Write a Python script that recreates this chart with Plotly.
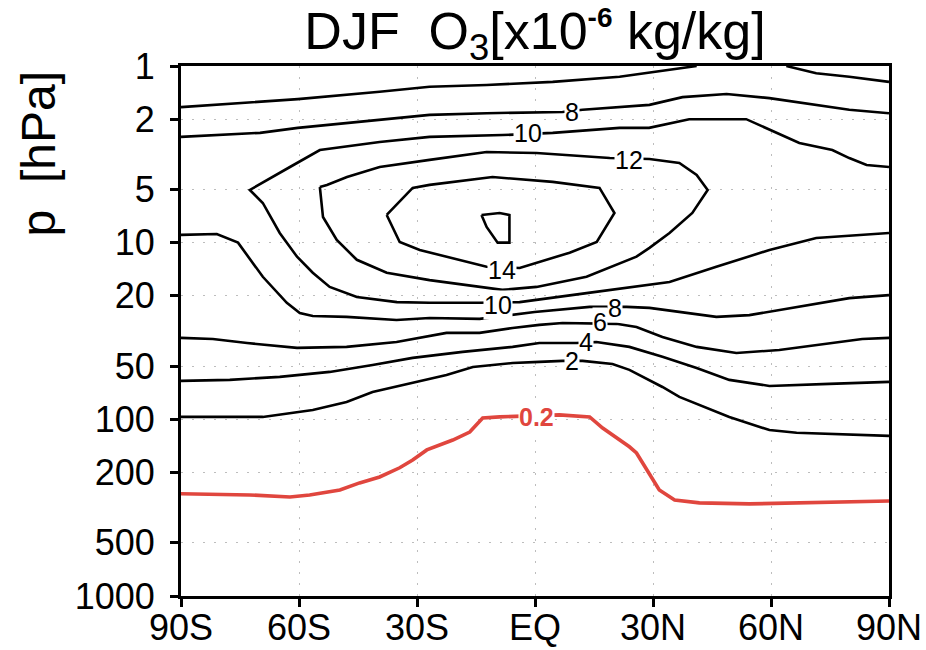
import math
import plotly.graph_objects as go

# ---------------- data (latitude in degrees, pressure in hPa) ----------------
x_tick_vals = [-90, -60, -30, 0, 30, 60, 90]
x_tick_text = ["90S", "60S", "30S", "EQ", "30N", "60N", "90N"]
y_tick_vals = [1, 2, 5, 10, 20, 50, 100, 200, 500, 1000]
y_tick_text = ["1", "2", "5", "10", "20", "50", "100", "200", "500", "1000"]

# 6 contour near the top (two pieces)
lat_6a = [-90, -75.0, -60.3, -39.5, -26.8, -12.3, 4.5, 21.5, 34.2, 41.1]
p_6a = [1.71, 1.62, 1.54, 1.40, 1.31, 1.28, 1.23, 1.15, 1.05, 1.0]
lat_6b = [63.9, 71.5, 79.9, 90]
p_6b = [1.0, 1.10, 1.15, 1.23]

# 8 contour, upper
lat_8u = [-90, -69.9, -60.3, -39.5, -26.8, -12.3, 7.0, 12.1, 21.5, 29.1, 37.5, 48.7, 59.6, 71.5, 79.9, 90]
p_8u = [2.52, 2.39, 2.24, 2.02, 1.89, 1.85, 1.82, 1.77, 1.71, 1.66, 1.50, 1.44, 1.52, 1.66, 1.77, 1.85]

# 10 contour (upper branch from 90N, around the western tip, lower branch back to 90N)
lat_10 = [90, 84.3, 79.9, 75.6, 67.2, 58.8, 53.7, 39.2, 29.0, 21.5, 4.5, -8.2, -26.8, -39.5, -54.7,
          -62.3, -68.2, -72.5, -69.2, -64.9, -60.5, -56.5, -52.2, -45.3, -35.1, -26.8, -14.1,
          -3.9, 13.1, 34.2, 46.1, 59.6, 71.5, 90]
p_10 = [3.73, 3.63, 3.32, 2.99, 2.73, 2.24, 2.00, 2.00, 2.24, 2.24, 2.39, 2.46, 2.52, 2.69, 2.99,
        3.73, 4.42, 5.03, 5.96, 8.81, 12.0, 14.8, 17.8, 20.3, 21.7, 21.9, 21.9,
        21.7, 19.3, 16.7, 13.7, 11.0, 9.40, 8.81]

# 12 contour (closed)
lat_12 = [-54.7, -52.9, -47.8, -39.5, -26.8, -12.3, 0.4, 19.0, 29.1, 36.7, 41.1, 43.9, 40.0, 34.2,
          29.1, 25.8, 13.1, 0.4, -8.3, -20.9, -26.8, -37.7, -45.3, -50.4, -53.9, -54.7]
p_12 = [4.84, 4.71, 4.25, 3.73, 3.40, 3.07, 3.11, 3.32, 3.36, 3.54, 4.14, 5.03, 6.79, 8.81,
        10.7, 12.0, 15.6, 17.8, 18.5, 16.9, 16.3, 14.8, 12.5, 9.66, 7.16, 4.84]

# 14 contour (closed)
lat_14 = [-37.7, -31.1, -26.8, -20.9, -10.8, 4.5, 16.4, 20.2, 15.7, 8.8, -3.9, -12.3, -20.9,
          -29.3, -34.4, -37.7]
p_14 = [6.97, 4.90, 4.71, 4.53, 4.25, 4.53, 4.90, 6.79, 9.91, 11.4, 13.9, 13.7, 12.2,
        11.0, 9.91, 6.97]

# 16 contour (small closed)
lat_16 = [-13.6, -9.0, -6.5, -6.5, -9.5, -12.3, -13.6]
p_16 = [6.97, 6.79, 6.97, 10.0, 10.0, 8.15, 6.97]

# 8 contour, lower
lat_8l = [-90, -80.9, -75.5, -69.2, -63.1, -59.8, -56.5, -47.9, -35.2, -26.8, -14.1, -5.7, -0.1,
          13.9, 23.3, 29.1, 36.7, 46.1, 54.5, 67.2, 79.9, 90]
p_8l = [9.04, 8.93, 10.0, 15.6, 21.9, 25.0, 26.0, 26.3, 27.4, 26.7, 27.0, 25.7, 24.7,
        23.1, 23.1, 23.4, 24.7, 26.3, 25.7, 23.1, 20.6, 19.8]

# 6 contour, lower
lat_6l = [-90, -81.9, -73.2, -60.5, -47.9, -35.2, -22.5, -14.1, -5.7, 1.1, 7.0, 20.7, 25.8,
          32.4, 41.1, 51.2, 62.1, 74.8, 83.2, 90]
p_6l = [34.6, 35.1, 37.0, 39.4, 38.9, 36.5, 32.4, 32.4, 30.4, 29.2, 28.5, 28.8, 30.0,
        34.2, 38.9, 42.1, 40.5, 37.0, 35.1, 34.6]

# 4 contour
lat_4 = [-90, -77.6, -64.9, -52.2, -41.3, -31.1, -18.4, -5.7, 1.1, 10.5, 15.6, 24.0, 32.4,
         41.1, 49.4, 59.6, 74.8, 90]
p_4 = [60.6, 59.8, 57.5, 53.9, 49.2, 44.9, 41.5, 38.9, 37.0, 37.0, 36.5, 38.9, 44.3,
       51.2, 59.8, 64.7, 63.0, 61.4]

# 2 contour
lat_2 = [-90, -69.2, -56.5, -47.9, -41.3, -31.1, -22.5, -15.8, -5.7, 1.1, 7.0, 12.1, 19.7,
         24.0, 32.4, 36.7, 49.4, 59.6, 66.5, 90]
p_2 = [96.9, 96.9, 88.5, 79.7, 70.0, 62.2, 56.1, 50.5, 48.0, 47.3, 46.7, 46.7, 48.6,
       52.5, 65.6, 74.6, 96.9, 115, 119, 124]

# 0.2 contour (red)
lat_02 = [-90, -72.5, -62.3, -57.3, -49.6, -44.6, -39.5, -34.4, -31.1, -27.5, -20.9, -16.6,
          -13.3, -9.0, 6.2, 13.9, 17.2, 24.0, 25.8, 29.1, 31.6, 35.5, 41.8, 54.5, 90]
p_02 = [264, 268, 275, 268, 251, 229, 212, 188, 170, 149, 131, 118,
        98.2, 96.9, 94.4, 96.9, 112, 143, 155, 206, 251, 286, 297, 301, 290]

# contour labels
label_text = ["8", "10", "12", "14", "10", "8", "6", "4", "2"]
label_lat = [9.3, -1.9, 24.0, -8.5, -9.5, 20.4, 16.4, 12.9, 9.3]
label_p = [1.82, 2.39, 3.40, 14.3, 22.5, 23.4, 28.3, 36.3, 46.7]
red_label_text = "0.2"
red_label_lat = 0.4
red_label_p = 96.9

# ---------------- figure ----------------
FONT = "Liberation Sans"
BLACK_LINES = [(lat_6a, p_6a), (lat_6b, p_6b), (lat_8u, p_8u), (lat_10, p_10), (lat_12, p_12),
               (lat_14, p_14), (lat_16, p_16), (lat_8l, p_8l), (lat_6l, p_6l), (lat_4, p_4),
               (lat_2, p_2)]
RED = "#e0463e"

fig = go.Figure()
for la, pp in BLACK_LINES:
    fig.add_trace(go.Scatter(x=la, y=pp, mode="lines",
                             line=dict(color="black", width=2.6), hoverinfo="skip",
                             showlegend=False))
fig.add_trace(go.Scatter(x=lat_02, y=p_02, mode="lines",
                         line=dict(color=RED, width=3.6), hoverinfo="skip", showlegend=False))

# annotations on a log axis take log10 positions
for t, la, pp in zip(label_text, label_lat, label_p):
    fig.add_annotation(x=la, y=math.log10(pp), yref="y", xref="x", text=t, showarrow=False,
                       font=dict(family=FONT, size=25, color="black"),
                       bgcolor="white", borderpad=0)
fig.add_annotation(x=red_label_lat, y=math.log10(red_label_p), xref="x", yref="y",
                   text="<b>" + red_label_text + "</b>",
                   showarrow=False, font=dict(family=FONT, size=25, color=RED),
                   bgcolor="white", borderpad=0)

fig.add_annotation(text="p  [hPa]", xref="paper", yref="paper", x=-0.2, y=0.834,
                   xanchor="center", yanchor="middle",
                   textangle=-90, showarrow=False,
                   font=dict(family=FONT, size=48, color="black"))

axis_common = dict(showline=True, linecolor="black", linewidth=3, mirror=True,
                   ticks="outside", ticklen=8, tickwidth=2.5, tickcolor="black",
                   showgrid=True, gridcolor="#bdbdbd", gridwidth=1.2, griddash="2px,9px",
                   zeroline=False, automargin=False,
                   tickfont=dict(family=FONT, size=36, color="black"))

fig.update_xaxes(range=[-90, 90], tickvals=x_tick_vals, ticktext=x_tick_text,
                 ticklabelstandoff=-10, **axis_common)
fig.update_yaxes(type="log", range=[3, 0], tickvals=y_tick_vals, ticktext=y_tick_text,
                 ticklabelstandoff=8, **axis_common)

title_text = ("DJF  O<sub>3</sub>[x10<sup><b><span style='font-size:28px'>-6</span></b></sup>"
              " kg/kg]")
fig.update_layout(
    width=926, height=650,
    margin=dict(l=181, r=37, t=66, b=54),
    paper_bgcolor="white", plot_bgcolor="white",
    title=dict(text=title_text, x=0.5, xref="paper",
               y=1 - 31 / 650, yref="container", yanchor="middle", xanchor="center",
               font=dict(family=FONT, size=52, color="black")),
)

fig.write_html("out.html")
